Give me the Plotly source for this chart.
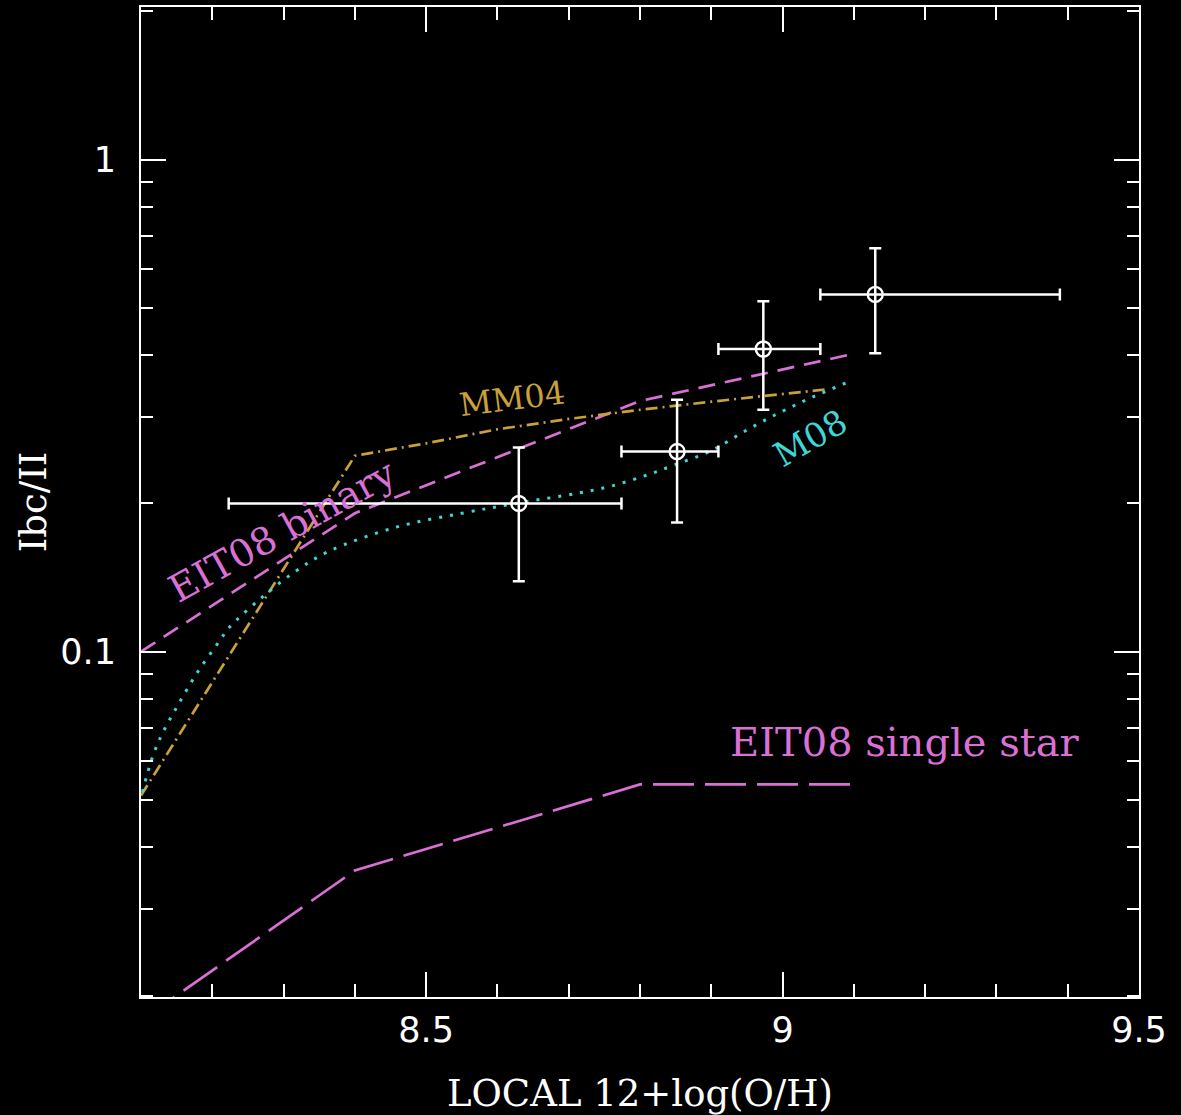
import math
import plotly.graph_objects as go

# ---- data ----
obs_x = [8.63, 8.852, 8.973, 9.130]
obs_y = [0.200, 0.255, 0.412, 0.532]
obs_x_lo = [8.223, 8.774, 8.910, 9.053]
obs_x_hi = [8.774, 8.910, 9.053, 9.389]
obs_y_lo = [0.139, 0.183, 0.310, 0.404]
obs_y_hi = [0.260, 0.325, 0.515, 0.660]

eit_bin_x = [8.1, 8.4, 8.8, 9.1]
eit_bin_y = [0.100, 0.191, 0.323, 0.403]

eit_single_x = [8.1, 8.4, 8.8, 9.1]
eit_single_y = [0.0178, 0.0359, 0.0537, 0.0537]

mm04_x = [8.1, 8.4, 8.5, 8.6, 8.7, 8.8, 8.9, 9.06]
mm04_y = [0.051, 0.250, 0.265, 0.283, 0.297, 0.310, 0.322, 0.341]

m08_x = [8.102, 8.116, 8.130, 8.150, 8.178, 8.210, 8.224, 8.270, 8.318, 8.364,
         8.458, 8.550, 8.626, 8.714, 8.760, 8.808, 8.850, 8.900, 8.948, 8.994,
         9.040, 9.096]
m08_y = [0.0518, 0.061, 0.0682, 0.0770, 0.0902, 0.105, 0.112, 0.129, 0.146, 0.160,
         0.179, 0.191, 0.200, 0.210, 0.217, 0.228, 0.240, 0.256, 0.281, 0.305,
         0.328, 0.355]

x_ticks = [8.5, 9, 9.5]
x_tick_text = ["8.5", "9", "9.5"]
y_ticks = [0.1, 1]
y_tick_text = ["0.1", "1"]

# label texts with their anchor (x, y in data units)
labels = [
    ("EIT08 binary", 8.298, 0.176, -29, 38, "violet"),
    ("MM04", 8.620, 0.326, -7, 32, "gold"),
    ("M08", 9.039, 0.272, -30, 34, "cyan"),
    ("EIT08 single star", 9.172, 0.0654, 0, 40, "violet"),
]

COLORS = {"violet": "#DA70D6", "gold": "#C9A03A", "cyan": "#3ED6D6"}
WHITE = "#FFFFFF"

fig = go.Figure()

fig.add_trace(go.Scatter(x=eit_single_x, y=eit_single_y, mode="lines",
                         line=dict(color=COLORS["violet"], width=2.7, dash="41px,11px"),
                         showlegend=False))
fig.add_trace(go.Scatter(x=eit_bin_x, y=eit_bin_y, mode="lines",
                         line=dict(color=COLORS["violet"], width=2.7, dash="17px,10px"),
                         showlegend=False))
fig.add_trace(go.Scatter(x=mm04_x, y=mm04_y, mode="lines",
                         line=dict(color=COLORS["gold"], width=2.7, dash="12px,5px,2px,5px"),
                         showlegend=False))
fig.add_trace(go.Scatter(x=m08_x, y=m08_y, mode="lines", line_shape="spline",
                         line=dict(color=COLORS["cyan"], width=3, dash="3px,8px"),
                         showlegend=False))

fig.add_trace(go.Scatter(
    x=obs_x, y=obs_y, mode="markers",
    marker=dict(symbol="circle-open", size=15, color=WHITE, line=dict(width=2.4, color=WHITE)),
    error_x=dict(type="data", symmetric=False,
                 array=[h - x for h, x in zip(obs_x_hi, obs_x)],
                 arrayminus=[x - l for l, x in zip(obs_x_lo, obs_x)],
                 color=WHITE, thickness=2.5, width=6),
    error_y=dict(type="data", symmetric=False,
                 array=[h - y for h, y in zip(obs_y_hi, obs_y)],
                 arrayminus=[y - l for l, y in zip(obs_y_lo, obs_y)],
                 color=WHITE, thickness=2.5, width=6),
    showlegend=False))

serif = "DejaVu Serif"
for text, lx, ly, ang, size, col in labels:
    fig.add_annotation(x=lx, y=math.log10(ly), text=text, showarrow=False,
                       textangle=ang, font=dict(family=serif, size=size, color=COLORS[col]))

axis_common = dict(
    showgrid=False, zeroline=False, showline=True, linecolor=WHITE, linewidth=2,
    mirror="allticks", ticks="inside", ticklen=25, tickwidth=2, tickcolor=WHITE,
    tickfont=dict(family="DejaVu Sans", size=35, color=WHITE),
)

fig.update_xaxes(**axis_common, range=[8.1, 9.5], tickmode="array",
                 tickvals=x_ticks, ticktext=x_tick_text,
                 minor=dict(dtick=0.1, tick0=8.1, ticks="inside", ticklen=13,
                            tickwidth=2, tickcolor=WHITE, showgrid=False),
                 ticklabelstandoff=1,
                 title=dict(text="LOCAL 12+log(O/H)", standoff=31,
                            font=dict(family=serif, size=37, color=WHITE)))
fig.update_yaxes(**axis_common, type="log", range=[-1.702, 0.310], tickmode="array",
                 tickvals=y_ticks, ticktext=y_tick_text,
                 minor=dict(dtick="D1", ticks="inside", ticklen=12,
                            tickwidth=2, tickcolor=WHITE, showgrid=False),
                 ticklabelstandoff=16,
                 title=dict(text="Ibc/II", standoff=2,
                            font=dict(family=serif, size=37, color=WHITE)))

fig.update_layout(
    width=1181, height=1115,
    paper_bgcolor="black", plot_bgcolor="black",
    margin=dict(l=141, r=42, t=5, b=118),
)

fig.write_html(
    "out.html",
    config={"displayModeBar": False},
    post_script="document.body.style.margin='0';document.body.style.background='black';"
                "document.body.style.overflow='hidden';",
)
